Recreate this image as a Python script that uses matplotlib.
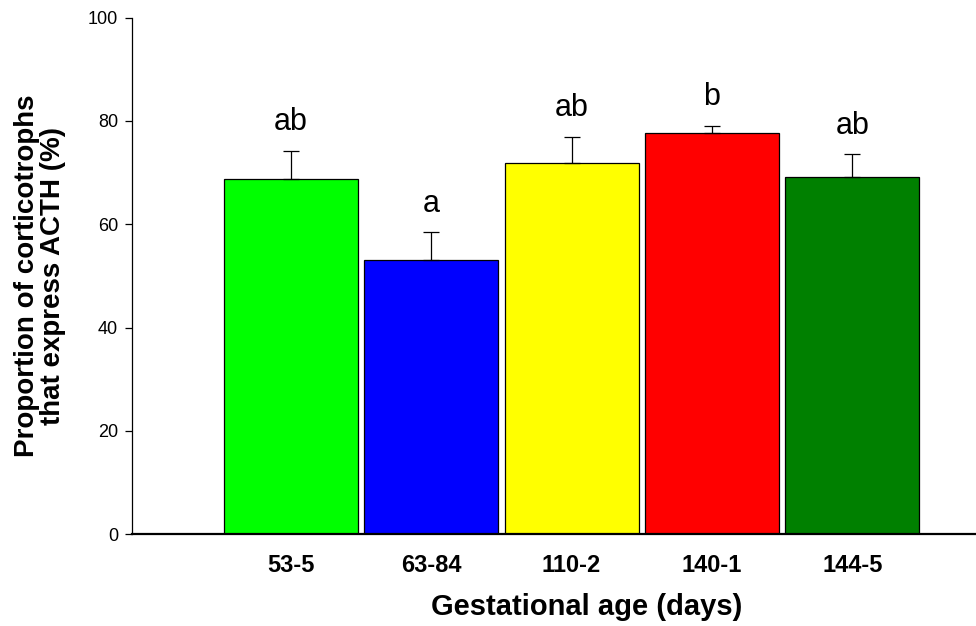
import matplotlib
matplotlib.use("Agg")
import matplotlib.pyplot as plt
import numpy as np

plt.rcParams['font.family'] = ['Liberation Sans', 'DejaVu Sans']

categories = ["53-5", "63-84", "110-2", "140-1", "144-5"]
means = [68.8, 53.1, 71.8, 77.6, 69.2]
sems = [5.4, 5.3, 5.1, 1.5, 4.3]
letters = ["ab", "a", "ab", "b", "ab"]
colors = ["#00FF00", "#0000FF", "#FFFF00", "#FF0000", "#008000"]

W, H = 976, 626
fig = plt.figure(figsize=(W / 100, H / 100), dpi=100)
ax = fig.add_axes([132 / W, 1 - 534.3 / H, 1 - 132 / W, (534.3 - 17.5) / H])

x = np.arange(len(categories))
ax.bar(x, means, width=0.954, color=colors, edgecolor="black", linewidth=0.9, zorder=2)
ax.errorbar(x, means, yerr=[np.zeros(len(sems)), sems], fmt="none",
            ecolor="black", elinewidth=0.9, capsize=6, capthick=0.9, zorder=3)

for xi, m, s, lab in zip(x, means, sems, letters):
    ax.annotate(lab, (xi, m + s), xytext=(0, 10), textcoords="offset points",
                ha="center", va="bottom", fontsize=22)

ax.set_xlim(-1.13, 4.88)
ax.set_ylim(0, 100)
ax.set_yticks([0, 20, 40, 60, 80, 100])
ax.tick_params(axis="y", direction="out", length=5, width=0.9, labelsize=13, pad=5)

ax.set_xticks(x)
ax.set_xticklabels(categories, fontsize=17, fontweight="bold")
ax.tick_params(axis="x", length=0, pad=14)
ax.set_xticks([2], minor=True)
ax.tick_params(axis="x", which="minor", direction="out", length=2.5, width=0.9)

for side in ["top", "right"]:
    ax.spines[side].set_visible(False)
ax.spines["left"].set_linewidth(0.9)
ax.spines["bottom"].set_linewidth(1.6)

ax.set_xlabel("Gestational age (days)", fontsize=21, fontweight="bold", labelpad=12)
ax.xaxis.label.set_x(0.539)
ax.set_ylabel("Proportion of corticotrophs\nthat express ACTH (%)", fontsize=20,
              fontweight="bold", labelpad=16, linespacing=1.0)

fig.savefig("out.png", dpi=100)
